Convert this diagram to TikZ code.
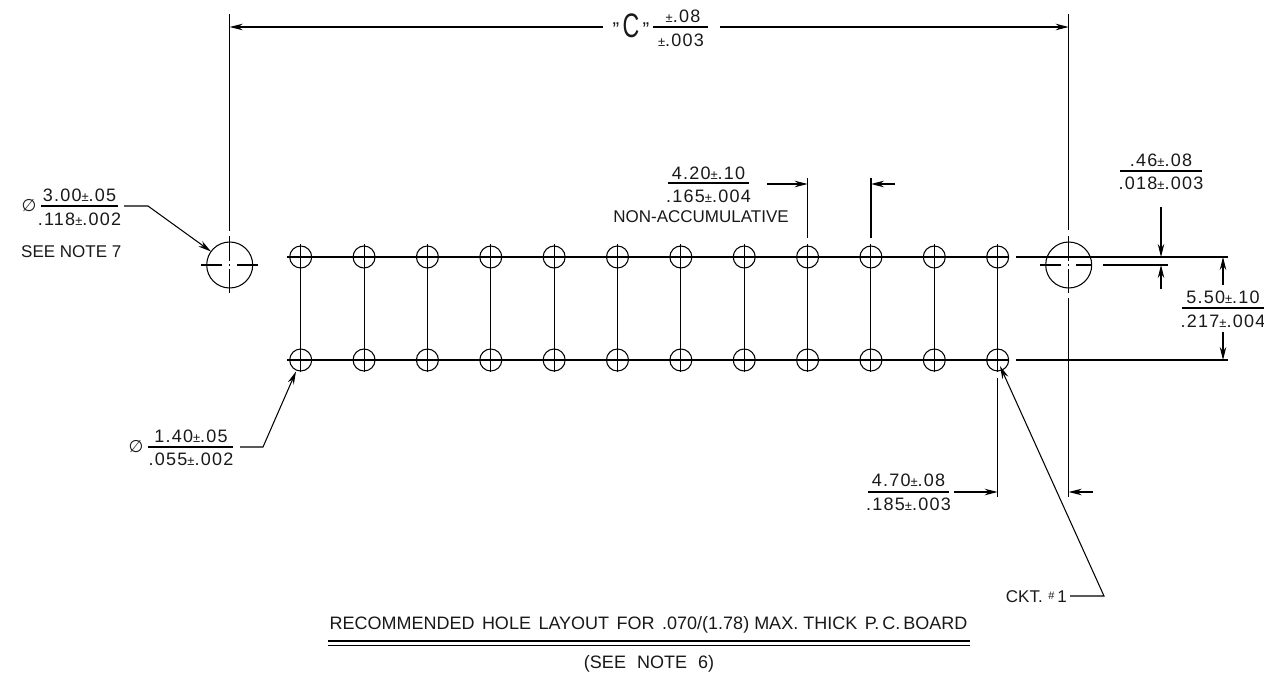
\documentclass[tikz,border=0pt]{standalone}
\usepackage{fontspec}
\setmainfont{Liberation Sans}
\newfontfamily\cadfont[LetterSpace=7]{Liberation Sans}
\newfontfamily\symfont{DejaVu Sans}
\usetikzlibrary{arrows.meta}
\newcommand{\smpm}{{\fontsize{13}{13}\selectfont ±}}
\tikzset{
  x=1pt,y=-1pt,
  ln/.style={line width=1.05pt,black},
  arr/.style={ln,-{Stealth[length=13pt,width=6.5pt]}},
  dim/.style={inner sep=0pt,font=\cadfont\fontsize{18}{18}\selectfont,text=black!90},
  label/.style={inner sep=0pt,font=\fontsize{17}{17}\selectfont,text=black!90},
  dia/.style={inner sep=0pt,font=\symfont\fontsize{17}{17}\selectfont,text=black!90},
  hole/.style={circle,draw,line width=1.05pt,minimum size=22pt,inner sep=0pt},
  bighole/.style={circle,draw,line width=1.05pt,minimum size=46pt,inner sep=0pt},
}
\begin{document}
\begin{tikzpicture}
\path[fill=white] (0,0) rectangle (1264,677);
\useasboundingbox (0,0) rectangle (1264,677);
% holes
\foreach \i in {1,...,12}{
  \pgfmathsetmacro{\xx}{300.7+(\i-1)*63.36}
  \node[hole] (t\i) at (\xx,257) {};
  \node[hole] (b\i) at (\xx,360) {};
  \coordinate (tu\i) at (\xx,244);
  \coordinate (bd\i) at (\xx,372);
  \draw[ln] (tu\i) -- (bd\i);
}
\coordinate (tl) at (287,257); \coordinate (tr) at (1009,257);
\coordinate (bl) at (287,360); \coordinate (br) at (1009,360);
\draw[ln] (tl) -- (tr);
\draw[ln] (bl) -- (br);
\coordinate (txr) at (1228,257); \coordinate (txl) at (1016,257);
\coordinate (bxr) at (1228,360); \coordinate (bxl) at (1016,360);
\draw[ln] (txl) -- (txr);
\draw[ln] (bxl) -- (bxr);
% big holes
\node[bighole] (L) at (229.7,265) {};
\node[bighole] (R) at (1068.7,265) {};
\foreach \c/\x in {L/229.7,R/1068.7}{
  \coordinate (\c a) at (\x,236); \coordinate (\c b) at (\x,261);
  \coordinate (\c c) at (\x,269); \coordinate (\c d) at (\x,293);
  \draw[ln] (\c a) -- (\c b); \draw[ln] (\c c) -- (\c d);
  \coordinate (\c e) at (\x,264.2); \coordinate (\c f) at (\x,265.8);
  \draw[ln] (\c e) -- (\c f);
}
\coordinate (La1) at (201,265); \coordinate (La2) at (222,265);
\coordinate (La3) at (237,265); \coordinate (La4) at (258,265);
\draw[ln] (La1) -- (La2); \draw[ln] (La3) -- (La4);
\coordinate (Ra1) at (1040,265); \coordinate (Ra2) at (1061,265);
\coordinate (Ra3) at (1076,265); \coordinate (Ra4) at (1092,265);
\coordinate (Ra5) at (1103,265); \coordinate (Ra6) at (1168,265);
\draw[ln] (Ra1) -- (Ra2); \draw[ln] (Ra3) -- (Ra4); \draw[ln] (Ra5) -- (Ra6);
% overall dimension C
\coordinate (Ltop) at (229.7,14); \coordinate (Lbot) at (229.7,231);
\coordinate (Rtop) at (1068.7,14); \coordinate (Rbot) at (1068.7,230);
\coordinate (Rlo1) at (1068.7,298); \coordinate (Rlo2) at (1068.7,497);
\draw[ln] (Ltop) -- (Lbot);
\draw[ln] (Rtop) -- (Rbot);
\draw[ln] (Rlo1) -- (Rlo2);
\coordinate (Ca) at (603,27); \coordinate (Cal) at (229.7,27);
\coordinate (Cb) at (720,27); \coordinate (Cbr) at (1068.7,27);
\draw[arr] (Ca) -- (Cal);
\draw[arr] (Cb) -- (Cbr);
\node[inner sep=0pt,text=black!90,font=\fontsize{20}{20}\selectfont] (Clab) at (631,26) {\raisebox{1pt}{"}\,\scalebox{.68}[1]{\fontsize{34}{34}\selectfont C}\,\raisebox{1pt}{"}};
\node[dim] (Ctop) at (683,16) {\smpm.08};
\node[dim] (Cbot) at (681,40) {\smpm.003};
\coordinate (Cr1) at (653,27); \coordinate (Cr2) at (708,27);
\draw[ln] (Cr1) -- (Cr2);
% 3.00 callout
\node[dim] (f1t) at (79.5,195) {3.00\smpm.05};
\node[dim] (f1b) at (79.5,219) {.118\smpm.002};
\node[dia] (f1d) at (29,206) {∅};
\coordinate (f1a) at (41,206); \coordinate (f1c) at (118,206);
\draw[ln] (f1a) -- (f1c);
\coordinate (l1a) at (124,206); \coordinate (l1b) at (148,206); \coordinate (l1c) at (211,251.5);
\draw[arr] (l1a) -- (l1b) -- (l1c);
\node[label,anchor=west] (note7) at (21,252) {SEE NOTE 7};
% 1.40 callout
\node[dim] (f2t) at (191,436) {1.40\smpm.05};
\node[dim] (f2b) at (191,459) {.055\smpm.002};
\node[dia] (f2d) at (136,447) {∅};
\coordinate (f2a) at (148,447); \coordinate (f2c) at (233,447);
\draw[ln] (f2a) -- (f2c);
\coordinate (l2a) at (240,447); \coordinate (l2b) at (263,447); \coordinate (l2c) at (296,371.5);
\draw[arr] (l2a) -- (l2b) -- (l2c);
% .46 dimension
\node[dim] (f3t) at (1161,160) {.46\smpm.08};
\node[dim] (f3b) at (1161,183) {.018\smpm.003};
\coordinate (f3a) at (1120,171); \coordinate (f3c) at (1202,171);
\draw[ln] (f3a) -- (f3c);
\coordinate (a3a) at (1161,207); \coordinate (a3b) at (1161,257);
\coordinate (a3c) at (1161,289); \coordinate (a3d) at (1161,265);
\draw[arr] (a3a) -- (a3b);
\draw[arr] (a3c) -- (a3d);
% 5.50 dimension
\node[dim] (f4t) at (1223,297) {5.50\smpm.10};
\node[dim] (f4b) at (1223,321) {.217\smpm.004};
\coordinate (f4a) at (1182,308); \coordinate (f4c) at (1264,308);
\draw[ln] (f4a) -- (f4c);
\coordinate (a4a) at (1223,285); \coordinate (a4b) at (1223,257);
\coordinate (a4c) at (1223,332); \coordinate (a4d) at (1223,360);
\draw[arr] (a4a) -- (a4b);
\draw[arr] (a4c) -- (a4d);
% 4.20 dimension
\node[dim] (f5t) at (708.5,173) {4.20\smpm.10};
\node[dim] (f5b) at (708.5,196) {.165\smpm.004};
\node[label] (f5n) at (701,217) {NON-ACCUMULATIVE};
\coordinate (f5a) at (668,183); \coordinate (f5c) at (749,183);
\draw[ln] (f5a) -- (f5c);
\coordinate (e9a) at (807.7,178); \coordinate (e9b) at (807.7,238);
\coordinate (e10a) at (871,178); \coordinate (e10b) at (871,238);
\draw[ln] (e9a) -- (e9b);
\draw[ln] (e10a) -- (e10b);
\coordinate (a5a) at (767,184); \coordinate (a5b) at (807.7,184);
\coordinate (a5c) at (895,184); \coordinate (a5d) at (871,184);
\draw[arr] (a5a) -- (a5b);
\draw[arr] (a5c) -- (a5d);
% 4.70 dimension
\node[dim] (f6t) at (908.5,480) {4.70\smpm.08};
\node[dim] (f6b) at (908.5,504) {.185\smpm.003};
\coordinate (f6a) at (868,492); \coordinate (f6c) at (949,492);
\draw[ln] (f6a) -- (f6c);
\coordinate (e12a) at (997.7,378); \coordinate (e12b) at (997.7,497);
\draw[ln] (e12a) -- (e12b);
\coordinate (a6a) at (954,492); \coordinate (a6b) at (997.7,492);
\coordinate (a6c) at (1093,492); \coordinate (a6d) at (1068.7,492);
\draw[arr] (a6a) -- (a6b);
\draw[arr] (a6c) -- (a6d);
% CKT callout
\node[label,anchor=east] (ckt) at (1067,597) {CKT.\,\,\raisebox{3pt}{\fontsize{11}{11}\selectfont\#}\,1};
\coordinate (c1) at (1070,596); \coordinate (c2) at (1104,596); \coordinate (c3) at (1000,366);
\draw[arr] (c1) -- (c2) -- (c3);
% title
\node[inner sep=0pt,font=\fontsize{18}{18}\selectfont,text=black!90] (title) at (648.5,625) {RECOMMENDED\hspace{2.5pt} HOLE\hspace{2.5pt} LAYOUT\hspace{2.5pt} FOR\hspace{2.5pt} .070/(1.78) MAX. THICK\hspace{2.5pt} P.\,C.\,BOARD};
\coordinate (r1a) at (328,641); \coordinate (r1b) at (970,641);
\coordinate (r2a) at (328,645.7); \coordinate (r2b) at (970,645.7);
\draw[ln] (r1a) -- (r1b);
\draw[ln] (r2a) -- (r2b);
\node[inner sep=0pt,font=\fontsize{18}{18}\selectfont,text=black!90] (see6) at (649,663.5) {(SEE\hspace{6pt} NOTE\hspace{6pt} 6)};
\end{tikzpicture}
\end{document}
